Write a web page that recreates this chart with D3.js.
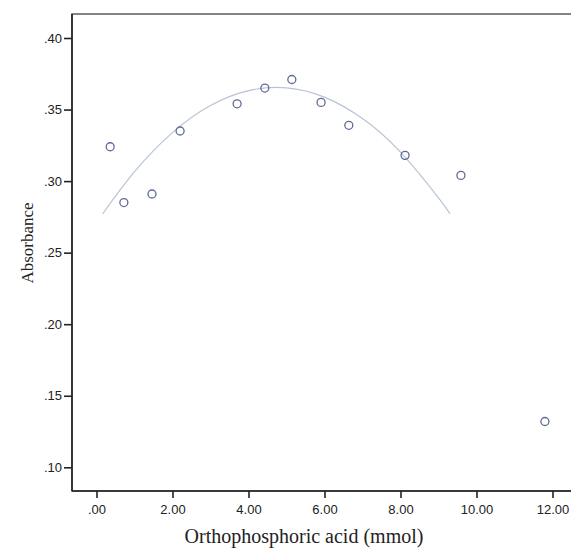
<!DOCTYPE html>
<html>
<head>
<meta charset="utf-8">
<script src="https://cdn.jsdelivr.net/npm/d3@7"></script>
<style>
  body { margin: 0; background: #fff; }
  svg { display: block; }
</style>
</head>
<body>
<svg id="chart" width="571" height="548"></svg>
<script>
// measured points (mmol, absorbance)
const acid = [0.36, 0.72, 1.46, 2.20, 3.70, 4.43, 5.14, 5.91, 6.64, 8.12, 9.59, 11.80];
const absorb = [0.324, 0.285, 0.291, 0.335, 0.354, 0.365, 0.371, 0.355, 0.339, 0.318, 0.304, 0.132];

// fit line
const fitX = [0.16, 1, 2, 3, 4, 5, 6, 7, 8, 9, 9.30];
const fitY = [0.277, 0.3066, 0.3339, 0.3528, 0.3632, 0.3652, 0.3587, 0.3437, 0.3202, 0.2882, 0.277];

const xTicks = [0, 2, 4, 6, 8, 10, 12];
const yTicks = [0.10, 0.15, 0.20, 0.25, 0.30, 0.35, 0.40];

const svg = d3.select("#chart");
const plotLeft = 72, plotTop = 14, plotBottom = 491, plotRight = 580;

const x = d3.scaleLinear()
    .domain([0, 12])
    .range([96.5, 552.5]);

const y = d3.scaleLinear()
    .domain([0.10, 0.40])
    .range([467.3, 38]);

// frame (right side runs off the picture)
svg.append("rect")
    .attr("x", plotLeft)
    .attr("y", plotTop)
    .attr("width", plotRight - plotLeft)
    .attr("height", plotBottom - plotTop)
    .attr("fill", "none")
    .attr("stroke", "#666")
    .attr("stroke-width", 1.6);

svg.append("line")
    .attr("x1", plotLeft).attr("x2", plotLeft)
    .attr("y1", plotTop).attr("y2", plotBottom)
    .attr("stroke", "#222").attr("stroke-width", 1.6);
svg.append("line")
    .attr("x1", plotLeft).attr("x2", plotRight)
    .attr("y1", plotBottom).attr("y2", plotBottom)
    .attr("stroke", "#222").attr("stroke-width", 1.6);

const fmt = d => d3.format(".2f")(d).replace(/^0/, "");

const yAxis = d3.axisLeft(y)
    .tickValues(yTicks)
    .tickSize(8)
    .tickPadding(2)
    .tickFormat(fmt);

svg.append("g")
    .attr("transform", `translate(${plotLeft},0)`)
    .call(yAxis)
    .call(g => g.select(".domain").remove())
    .call(g => g.selectAll("line").attr("stroke", "#222").attr("stroke-width", 1.6))
    .call(g => g.selectAll("text")
        .attr("font-family", "Liberation Sans, Arial, sans-serif")
        .attr("font-size", 13)
        .attr("fill", "#222"));

const xAxis = d3.axisBottom(x)
    .tickValues(xTicks)
    .tickSize(7)
    .tickPadding(7)
    .tickFormat(fmt);

svg.append("g")
    .attr("transform", `translate(0,${plotBottom})`)
    .call(xAxis)
    .call(g => g.select(".domain").remove())
    .call(g => g.selectAll("line").attr("stroke", "#222").attr("stroke-width", 1.6))
    .call(g => g.selectAll("text")
        .attr("font-family", "Liberation Sans, Arial, sans-serif")
        .attr("font-size", 13)
        .attr("fill", "#222"));

// fit line
const fit = fitX.map((v, i) => [v, fitY[i]]);
svg.append("path")
    .datum(fit)
    .attr("fill", "none")
    .attr("stroke", "#b9c3d6")
    .attr("stroke-width", 1.2)
    .attr("d", d3.line()
        .x(d => x(d[0]))
        .y(d => y(d[1]))
        .curve(d3.curveNatural));

// points
const pts = acid.map((v, i) => [v, absorb[i]]);
svg.append("g")
    .selectAll("circle")
    .data(pts)
    .join("circle")
    .attr("cx", d => x(d[0]))
    .attr("cy", d => y(d[1]))
    .attr("r", 4)
    .attr("fill", "none")
    .attr("stroke", "#5f6b96")
    .attr("stroke-width", 1.3);

// axis titles
svg.append("text")
    .attr("x", 304)
    .attr("y", 543)
    .attr("text-anchor", "middle")
    .attr("font-family", "Liberation Serif, Times New Roman, serif")
    .attr("font-size", 20)
    .attr("fill", "#222")
    .text("Orthophosphoric acid (mmol)");

svg.append("text")
    .attr("transform", "translate(33,243) rotate(-90)")
    .attr("text-anchor", "middle")
    .attr("font-family", "Liberation Serif, Times New Roman, serif")
    .attr("font-size", 17)
    .attr("fill", "#222")
    .text("Absorbance");
</script>
</body>
</html>
